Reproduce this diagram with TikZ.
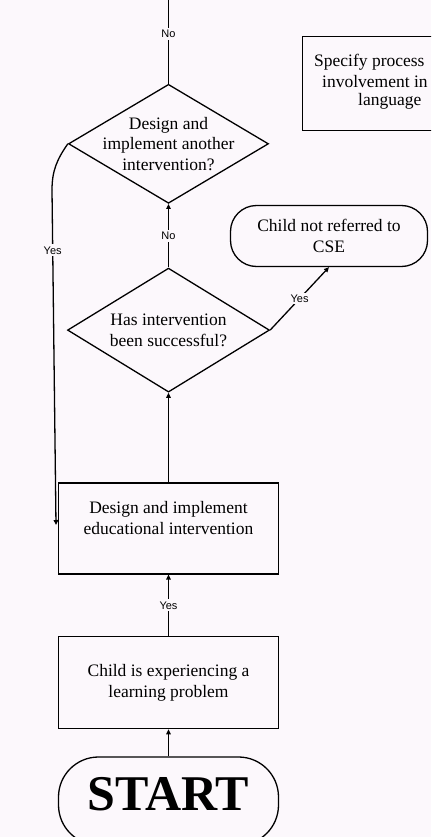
\documentclass[tikz,border=0pt]{standalone}
\usepackage{fontspec}
\setmainfont{Liberation Serif}
\newfontfamily\labelfont{Liberation Sans}
\usepackage{tikz}
\usetikzlibrary{arrows.meta,positioning,shapes.geometric}
\definecolor{pagebg}{RGB}{252,248,252}

\begin{document}
\begin{tikzpicture}[
    x=1pt,y=1pt,
    box/.style={rectangle,draw,line width=1.3pt,minimum width=220pt,
                align=center,font=\fontsize{17.5}{20.5}\selectfont},
    decision/.style={diamond,draw,line width=1.3pt,inner sep=-12pt,aspect=1.68,
                align=center,font=\fontsize{17.5}{20.5}\selectfont},
    term/.style={rectangle,draw,line width=1.3pt,align=center,
                font=\fontsize{17.5}{20.5}\selectfont},
    arr/.style={-{Triangle[length=5pt,width=4.5pt]},line width=1.3pt},
    lbl/.style={fill=pagebg,inner sep=2pt,font=\labelfont\fontsize{11}{12}\selectfont},
  ]
    \useasboundingbox (0,0) rectangle (431,-837);
    \fill[pagebg] (0,0) rectangle (431,-837);
    \clip (0,0) rectangle (431,-837);

    % main chain, bottom to top
    \node[term,minimum width=220pt,minimum height=88pt,rounded corners=40pt,
          text depth=14pt,font=\bfseries\fontsize{50}{50}\selectfont]
          (start) at (168.5,-801) {START};
    \node[box,minimum height=92pt,above=27pt of start] (problem)
          {Child is experiencing a\\learning problem};
    \node[box,minimum height=91pt,above=61.5pt of problem] (design)
          {Design and implement\\educational intervention\\\mbox{}};
    \node[decision,minimum width=202pt,minimum height=124pt,above=89.5pt of design]
          (success) {Has intervention\\been successful?};
    \node[decision,minimum width=200pt,minimum height=119pt,above=63.5pt of success]
          (again) {Design and\\implement another\\intervention?};

    % side nodes
    \node[term,minimum width=197pt,minimum height=61pt,rounded corners=26pt]
          (notref) at (329,-236) {Child not referred to\\CSE};
    \node[rectangle,draw,line width=1.3pt,anchor=north west,minimum width=200pt,
          minimum height=94pt] (spec) at (302,-36) {};
    \node[anchor=west,inner sep=0pt,font=\fontsize{17.5}{20.5}\selectfont]
          (spec1) at (314,-62) {Specify process};
    \node[anchor=west,inner sep=0pt,font=\fontsize{17.5}{20.5}\selectfont]
          (spec2) at (322,-82) {involvement in};
    \node[anchor=west,inner sep=0pt,font=\fontsize{17.5}{20.5}\selectfont]
          (spec3) at (358,-101) {language};

    \coordinate (topend) at (168.5,2);
    \coordinate (yesbend) at (52,-190);
    \coordinate (yesend) at (56,-525);

    % connectors
    \draw[arr] (start) -- (problem);
    \draw[arr] (problem) -- node[lbl]{Yes} (design);
    \draw[arr] (design) -- (success);
    \draw[arr] (success) -- node[lbl]{No} (again);
    \draw[arr] (success.east) -- node[lbl]{Yes} (notref.south);
    \draw[line width=1.3pt] (again.north) -- node[lbl,pos=0.58]{No} (topend);
    \draw[line width=1.3pt] (again.west) to[out=235,in=90] (yesbend);
    \draw[arr] (yesbend) -- node[lbl,pos=0.18]{Yes} (yesend);
  \end{tikzpicture}
\end{document}
